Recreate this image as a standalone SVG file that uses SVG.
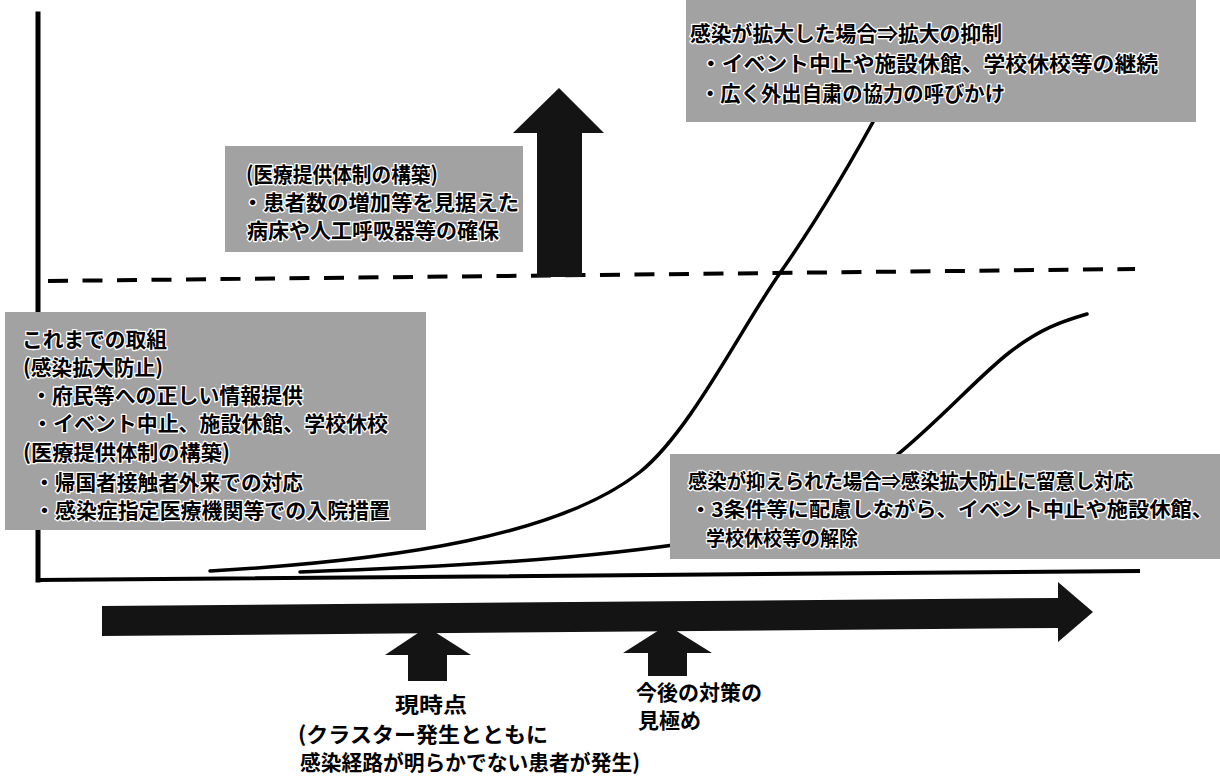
<svg xmlns="http://www.w3.org/2000/svg" width="1220" height="776" viewBox="0 0 1220 776">
<style>
.box{fill:#a2a2a2;}
.t{font-family:"Noto Sans CJK JP","Noto Sans CJK SC",sans-serif;font-weight:700;font-size:21px;fill:#000;stroke:#fff;stroke-width:2.6px;paint-order:stroke;stroke-linejoin:round;dominant-baseline:central;}
.s{font-size:20px;}
.lab{font-family:"Noto Sans CJK JP","Noto Sans CJK SC",sans-serif;font-weight:700;font-size:21px;fill:#000;dominant-baseline:central;}
.ax{fill:none;stroke:#000;stroke-linecap:square;}
.crv{fill:none;stroke:#000;stroke-width:3.5;stroke-linecap:round;}
.dark{fill:#141414;}
</style>
<rect width="1220" height="776" fill="#fff"/>
<g id="connectors">
<path class="ax" d="M38,14 L38,580" stroke-width="5"/>
<path class="ax" d="M38,580 L1138,571" stroke-width="4"/>
<path id="threshold" d="M48,281 L1135,269" fill="none" stroke="#000" stroke-width="4" stroke-dasharray="20 14.5"/>
<path id="curve-spread" class="crv" d="M210,571 C400,560 560,535 640,472 C690,432 740,330 780,273 C820,216 850,165 885,100"/>
<path id="curve-contained" class="crv" d="M300,572 C480,566 620,556 730,536 C800,523 860,490 897,455 C940,420 980,375 1010,352 S1060,322 1087,314"/>
</g>
<g id="box-spread">
<rect class="box" x="686" y="0" width="510" height="122"/>
<text class="t" x="690" y="32" textLength="312" lengthAdjust="spacingAndGlyphs">感染が拡大した場合⇒拡大の抑制</text>
<text class="t" x="700" y="62" textLength="458" lengthAdjust="spacingAndGlyphs">・イベント中止や施設休館、学校休校等の継続</text>
<text class="t" x="700" y="92" textLength="305" lengthAdjust="spacingAndGlyphs">・広く外出自粛の協力の呼びかけ</text>
</g>
<g id="box-medical">
<rect class="box" x="225" y="146" width="298" height="106"/>
<text class="t" x="246" y="173" textLength="192" lengthAdjust="spacingAndGlyphs">(医療提供体制の構築)</text>
<text class="t" x="242" y="201" textLength="277" lengthAdjust="spacingAndGlyphs">・患者数の増加等を見据えた</text>
<text class="t" x="247" y="229" textLength="252" lengthAdjust="spacingAndGlyphs">病床や人工呼吸器等の確保</text>
</g>
<g id="box-current">
<rect class="box" x="5" y="312" width="421" height="218"/>
<text class="t" x="22" y="338" textLength="145" lengthAdjust="spacingAndGlyphs">これまでの取組</text>
<text class="t" x="23" y="366" textLength="140" lengthAdjust="spacingAndGlyphs">(感染拡大防止)</text>
<text class="t" x="31" y="394" textLength="272" lengthAdjust="spacingAndGlyphs">・府民等への正しい情報提供</text>
<text class="t" x="32" y="422" textLength="356" lengthAdjust="spacingAndGlyphs">・イベント中止、施設休館、学校休校</text>
<text class="t" x="23" y="451" textLength="207" lengthAdjust="spacingAndGlyphs">(医療提供体制の構築)</text>
<text class="t" x="34" y="481" textLength="269" lengthAdjust="spacingAndGlyphs">・帰国者接触者外来での対応</text>
<text class="t" x="34" y="509" textLength="356" lengthAdjust="spacingAndGlyphs">・感染症指定医療機関等での入院措置</text>
</g>
<g id="box-contained">
<rect class="box" x="670" y="454" width="550" height="105"/>
<text class="t s" x="688" y="480" textLength="445" lengthAdjust="spacingAndGlyphs">感染が抑えられた場合⇒感染拡大防止に留意し対応</text>
<text class="t s" x="690" y="508" textLength="523" lengthAdjust="spacingAndGlyphs">・3条件等に配慮しながら、イベント中止や施設休館、</text>
<text class="t s" x="706" y="537" textLength="152" lengthAdjust="spacingAndGlyphs">学校休校等の解除</text>
</g>
<g id="arrow-up-big">
<polygon class="dark" points="559,88 604,133 582,133 582,277 537,277 537,133 513,133"/>
</g>
<g id="timeline">
<polygon class="dark" points="102,606 1058,598 1058,582 1093,612 1058,642 1058,628 102,636"/>
</g>
<g id="marker-now">
<polygon class="dark" points="427,627 471,655 447,655 447,681 408,681 408,655 385,655"/>
<text class="lab" x="395" y="703" font-size="22" textLength="72" lengthAdjust="spacingAndGlyphs">現時点</text>
<text class="lab" x="298" y="733" font-size="20" textLength="250" lengthAdjust="spacingAndGlyphs">(クラスター発生とともに</text>
<text class="lab" x="300" y="761" font-size="20" textLength="340" lengthAdjust="spacingAndGlyphs">感染経路が明らかでない患者が発生)</text>
</g>
<g id="marker-future">
<polygon class="dark" points="667,625 712,653 687,653 687,676 648,676 648,653 623,653"/>
<text class="lab" x="636" y="691" font-size="23">今後の対策の</text>
<text class="lab" x="638" y="719" font-size="23">見極め</text>
</g>
</svg>
